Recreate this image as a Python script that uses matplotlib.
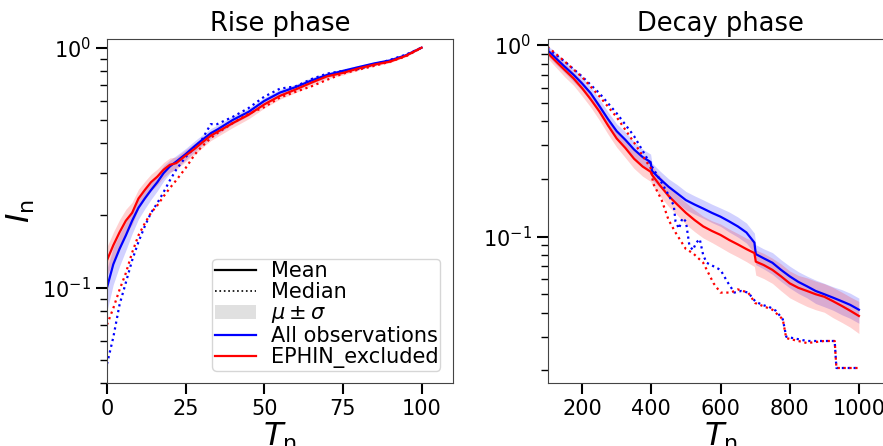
import numpy as np
import matplotlib
matplotlib.use('Agg')
import matplotlib.pyplot as plt
from matplotlib.lines import Line2D
from matplotlib.patches import Patch

# Rise phase data
rise_t = [0, 2, 4, 6, 8, 10, 12, 14, 16, 18, 20, 22, 25, 28, 30, 33, 35,
          40, 45, 50, 55, 60, 65, 70, 75, 80, 85, 90, 95, 100]
rise_mean_all = [0.10, 0.125, 0.145, 0.165, 0.19, 0.215, 0.235, 0.255, 0.275, 0.30,
                 0.32, 0.335, 0.36, 0.39, 0.41, 0.44, 0.455, 0.50, 0.54, 0.60,
                 0.65, 0.685, 0.73, 0.77, 0.80, 0.83, 0.86, 0.885, 0.93, 1.0]
rise_std_all = [0.02, 0.022, 0.022, 0.022, 0.022, 0.022, 0.022, 0.022, 0.022, 0.022,
                0.02, 0.02, 0.02, 0.02, 0.02, 0.02, 0.02, 0.02, 0.02, 0.02,
                0.02, 0.02, 0.02, 0.018, 0.016, 0.014, 0.012, 0.01, 0.008, 0.004]
rise_mean_excl = [0.13, 0.15, 0.17, 0.19, 0.205, 0.235, 0.255, 0.275, 0.29, 0.31,
                  0.325, 0.33, 0.355, 0.38, 0.40, 0.43, 0.445, 0.485, 0.525, 0.58,
                  0.63, 0.67, 0.715, 0.76, 0.785, 0.82, 0.85, 0.875, 0.925, 1.0]
rise_std_excl = [0.018, 0.02, 0.022, 0.022, 0.022, 0.022, 0.022, 0.022, 0.022, 0.022,
                 0.022, 0.02, 0.02, 0.02, 0.02, 0.02, 0.02, 0.02, 0.02, 0.02,
                 0.02, 0.02, 0.02, 0.018, 0.016, 0.014, 0.012, 0.01, 0.008, 0.004]
rise_median_all = [0.048, 0.062, 0.085, 0.105, 0.13, 0.155, 0.18, 0.205, 0.225, 0.25,
                   0.28, 0.31, 0.35, 0.385, 0.41, 0.48, 0.48, 0.515, 0.56, 0.625,
                   0.675, 0.69, 0.74, 0.78, 0.80, 0.815, 0.85, 0.89, 0.935, 1.0]
rise_median_excl = [0.07, 0.082, 0.098, 0.115, 0.14, 0.165, 0.185, 0.205, 0.22, 0.24,
                    0.26, 0.28, 0.315, 0.36, 0.385, 0.42, 0.44, 0.485, 0.53, 0.565,
                    0.62, 0.655, 0.69, 0.735, 0.78, 0.81, 0.84, 0.875, 0.92, 1.0]

# Decay phase data
decay_t = [100, 125, 150, 175, 200, 225, 250, 275, 300, 325, 350, 375, 398, 402,
           425, 450, 475, 500, 525, 550, 575, 600, 625, 650, 675, 698, 702, 725,
           750, 775, 800, 825, 850, 875, 900, 925, 950, 975, 1000]
decay_mean_all = [0.94, 0.85, 0.77, 0.70, 0.63, 0.56, 0.48, 0.41, 0.355, 0.32,
                  0.285, 0.26, 0.245, 0.22, 0.20, 0.182, 0.168, 0.155, 0.147, 0.14,
                  0.133, 0.127, 0.12, 0.113, 0.105, 0.093, 0.081, 0.077, 0.073, 0.067,
                  0.062, 0.058, 0.055, 0.052, 0.050, 0.048, 0.046, 0.044, 0.0415]
decay_mean_excl = [0.91, 0.82, 0.74, 0.67, 0.595, 0.52, 0.45, 0.38, 0.325, 0.29,
                   0.255, 0.232, 0.218, 0.21, 0.185, 0.163, 0.147, 0.133, 0.122, 0.113,
                   0.107, 0.102, 0.096, 0.091, 0.086, 0.082, 0.074, 0.071, 0.067, 0.062,
                   0.057, 0.054, 0.052, 0.050, 0.0485, 0.046, 0.0435, 0.041, 0.0385]
decay_relstd_all = [0.06, 0.07, 0.07, 0.08, 0.08, 0.08, 0.09, 0.09, 0.09, 0.1,
                    0.1, 0.1, 0.1, 0.1, 0.1, 0.1, 0.11, 0.11, 0.11, 0.11,
                    0.11, 0.11, 0.12, 0.12, 0.12, 0.12, 0.12, 0.12, 0.13, 0.13,
                    0.13, 0.13, 0.13, 0.14, 0.14, 0.14, 0.15, 0.15, 0.15]
decay_relstd_excl = [0.06, 0.07, 0.08, 0.08, 0.09, 0.09, 0.1, 0.1, 0.1, 0.11,
                     0.11, 0.11, 0.11, 0.11, 0.12, 0.12, 0.12, 0.13, 0.13, 0.13,
                     0.13, 0.14, 0.14, 0.14, 0.14, 0.15, 0.15, 0.15, 0.15, 0.16,
                     0.16, 0.16, 0.17, 0.17, 0.17, 0.18, 0.18, 0.18, 0.19]

decay_t_med_all = [100, 150, 200, 250, 300, 350, 400, 425, 450, 465, 470, 480, 490,
                   500, 510, 520, 530, 540, 550, 560, 600, 620, 640, 660, 680, 700,
                   720, 740, 760, 780, 790, 850, 900, 930, 935, 1000]
decay_median_all = [0.96, 0.82, 0.685, 0.56, 0.44, 0.335, 0.235, 0.198, 0.165, 0.145,
                    0.12, 0.11, 0.125, 0.12, 0.09, 0.085, 0.093, 0.097, 0.08, 0.073,
                    0.067, 0.058, 0.051, 0.052, 0.051, 0.046, 0.044, 0.043, 0.041,
                    0.037, 0.030, 0.0285, 0.0285, 0.0285, 0.0206, 0.0206]
decay_t_med_excl = [100, 150, 200, 250, 300, 350, 400, 405, 430, 450, 470, 500, 520,
                    550, 580, 600, 630, 650, 680, 700, 750, 780, 790, 850, 900, 930,
                    935, 1000]
decay_median_excl = [0.98, 0.82, 0.68, 0.54, 0.42, 0.31, 0.225, 0.19, 0.155, 0.122,
                     0.105, 0.086, 0.082, 0.073, 0.057, 0.051, 0.051, 0.053, 0.051,
                     0.045, 0.0415, 0.037, 0.0295, 0.0278, 0.0285, 0.0285, 0.0206,
                     0.0206]

W, H = 883, 446
fig = plt.figure(figsize=(W / 100, H / 100), dpi=100)
ax1 = fig.add_axes([107 / W, 63 / H, 346 / W, 344 / H])
ax2 = fig.add_axes([547.5 / W, 63 / H, 346 / W, 344 / H])

# Rise
t = np.array(rise_t)
for mean, std, med, col in [(rise_mean_all, rise_std_all, rise_median_all, 'blue'),
                            (rise_mean_excl, rise_std_excl, rise_median_excl, 'red')]:
    mean = np.array(mean)
    std = np.array(std)
    ax1.fill_between(t, mean - std, mean + std, color=col, alpha=0.18, lw=0)
    ax1.plot(t, mean, color=col, lw=1.6)
    ax1.plot(t, med, color=col, lw=1.6, ls=':')

# Decay
t = np.array(decay_t)
for mean, rel, col in [(decay_mean_all, decay_relstd_all, 'blue'),
                       (decay_mean_excl, decay_relstd_excl, 'red')]:
    mean = np.array(mean)
    rel = np.array(rel)
    ax2.fill_between(t, mean * (1 - rel), mean * (1 + rel), color=col, alpha=0.18, lw=0)
    ax2.plot(t, mean, color=col, lw=1.6)
ax2.plot(decay_t_med_all, decay_median_all, color='blue', lw=1.6, ls=':')
ax2.plot(decay_t_med_excl, decay_median_excl, color='red', lw=1.6, ls=':')

for ax in (ax1, ax2):
    ax.set_yscale('log')
    ax.tick_params(which='major', labelsize=15, length=8, width=1.5)
    ax.tick_params(which='minor', length=5, width=1.0)
    ax.set_xlabel(r'$T_\mathrm{n}$', fontsize=23, labelpad=1)
    for s in ax.spines.values():
        s.set_color('#444444')

ax1.set_xlim(0, 110)
ax1.set_ylim(0.040, 1.087)
ax1.set_xticks([0, 25, 50, 75, 100])
ax1.set_ylabel(r'$I_\mathrm{n}$', fontsize=23)
ax1.set_title('Rise phase', fontsize=18.5)

ax2.set_xlim(100, 1100)
ax2.set_ylim(0.0172, 1.075)
ax2.set_xticks([200, 400, 600, 800, 1000])
ax2.set_title('Decay phase', fontsize=18.5)

handles = [Line2D([], [], color='black', lw=1.6),
           Line2D([], [], color='black', lw=1.2, ls=':'),
           Patch(facecolor='#e0e0e0', edgecolor='none'),
           Line2D([], [], color='blue', lw=1.6),
           Line2D([], [], color='red', lw=1.6)]
labels = ['Mean', 'Median', r'$\mu \pm \sigma$', 'All observations', 'EPHIN_excluded']
ax1.legend(handles, labels, loc='lower right', fontsize=15, handlelength=2,
           labelspacing=0.05, borderpad=0.1, handletextpad=0.7,
           borderaxespad=0.6)

fig.savefig('out.png', dpi=100)
